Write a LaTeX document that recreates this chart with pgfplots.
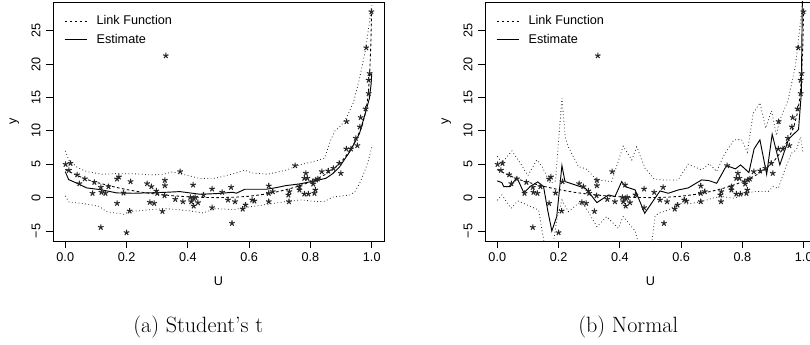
\documentclass[border=0pt]{standalone}
\usepackage{pgfplots}
\pgfplotsset{compat=1.18}
\usepackage{pgfplotstable}
\usepackage{fontspec}
\newfontfamily\hv{Liberation Sans}

\pgfplotstableread{
u y
0.001 4.99
0.017 5.14
0.012 4.10
0.039 3.42
0.046 2.10
0.064 2.82
0.089 0.65
0.095 2.30
0.116 1.55
0.118 0.80
0.131 0.65
0.141 1.65
0.169 2.80
0.175 3.10
0.169 -0.85
0.116 -4.45
0.213 2.40
0.210 -2.00
0.200 -5.24
0.190 0.70
0.267 2.10
0.281 1.65
0.276 -0.70
0.290 -0.85
0.297 1.00
0.300 0.65
0.317 -2.05
0.324 0.30
0.325 1.80
0.325 2.60
0.328 21.26
0.359 -0.25
0.375 3.90
0.384 -0.60
0.408 0.05
0.411 -0.60
0.419 -0.10
0.419 -1.25
0.424 0.05
0.433 -0.75
0.417 1.90
0.451 0.40
0.479 1.30
0.479 -1.50
0.512 0.80
0.531 -0.35
0.541 1.55
0.544 -3.85
0.554 -0.60
0.579 -1.70
0.588 -1.10
0.610 -0.35
0.617 -0.50
0.664 1.75
0.664 0.65
0.664 -0.60
0.677 0.90
0.728 0.40
0.731 0.90
0.730 -0.60
0.750 4.80
0.764 1.15
0.764 1.65
0.780 0.55
0.793 0.55
0.780 2.90
0.790 2.90
0.785 3.65
0.807 2.40
0.809 2.05
0.818 2.65
0.824 2.80
0.816 1.15
0.813 0.65
0.837 3.90
0.858 4.00
0.875 4.40
0.894 5.15
0.899 3.65
0.917 7.30
0.932 7.30
0.918 11.40
0.948 8.90
0.953 7.80
0.961 10.60
0.964 12.00
0.980 13.30
0.982 22.45
0.990 15.60
0.990 17.60
0.993 18.60
0.999 27.85
}\pts

\pgfplotstableread{
u y
0 4.2
0.025 3.6
0.05 3.1
0.075 2.65
0.1 2.3
0.15 1.7
0.2 1.2
0.25 0.8
0.3 0.5
0.35 0.28
0.4 0.12
0.45 0.03
0.5 0
0.55 0.05
0.6 0.2
0.65 0.5
0.7 0.95
0.75 1.55
0.8 2.35
0.85 3.5
0.88 4.5
0.9 5.3
0.92 6.5
0.94 7.9
0.96 9.8
0.97 11.0
0.98 12.8
0.986 14.6
0.99 16.3
0.994 19.4
0.997 22.8
1.0 28.6
}\link

\pgfplotstableread{
u y
0 7.0
0.012 5.6
0.04 4.5
0.07 3.9
0.12 3.5
0.17 3.6
0.23 3.55
0.28 3.4
0.32 3.5
0.35 3.85
0.4 3.3
0.44 2.85
0.49 2.9
0.55 3.6
0.585 4.1
0.61 3.7
0.66 3.5
0.72 4.1
0.765 4.9
0.81 5.4
0.846 5.9
0.865 8.5
0.88 10.0
0.9 10.8
0.918 12.0
0.94 14.2
0.96 17.8
0.98 22.2
0.993 26.5
1.0 28.8
}\lupper

\pgfplotstableread{
u y
0 0.25
0.012 -0.65
0.06 -0.9
0.11 -1.3
0.135 -2.1
0.19 -2.5
0.21 -2.1
0.28 -1.8
0.33 -1.65
0.4 -1.95
0.45 -2.3
0.49 -1.65
0.55 -1.8
0.6 -1.4
0.66 -1.0
0.71 -0.65
0.77 -0.35
0.82 -0.6
0.846 -0.55
0.875 0.1
0.93 0.4
0.945 0.9
0.96 2.1
0.98 4.3
0.99 5.7
1.0 7.6
}\llower

\pgfplotstableread{
u y
0 3.9
0.011 2.7
0.038 2.15
0.07 1.45
0.114 1.2
0.168 0.7
0.222 0.65
0.3 0.75
0.33 0.8
0.374 0.9
0.44 0.5
0.493 0.6
0.548 0.8
0.558 0.65
0.586 1.25
0.656 1.25
0.689 1.5
0.72 1.8
0.765 2.05
0.819 2.55
0.851 2.9
0.873 3.6
0.895 4.6
0.93 7.0
0.96 9.6
0.98 12.8
0.992 14.8
0.998 17
1.0 18.6
}\lest

\pgfplotstableread{
u y
0 6.2
0.015 5.2
0.048 7.0
0.072 5.4
0.1 3.3
0.129 5.65
0.146 4.65
0.173 2.15
0.19 2.5
0.211 14.9
0.222 9.0
0.232 7.6
0.265 4.65
0.29 4.3
0.325 2.65
0.373 2.4
0.411 7.7
0.439 5.65
0.455 7.6
0.482 4.4
0.512 2.8
0.537 2.65
0.59 2.65
0.623 5.0
0.667 4.15
0.692 5.1
0.716 3.9
0.737 6.15
0.772 8.65
0.797 8.7
0.816 6.8
0.835 12.6
0.857 14.2
0.876 10.4
0.895 13.0
0.911 9.3
0.92 11.4
0.949 14.6
0.973 19.8
0.993 27.8
0.996 29.5
}\rupper

\pgfplotstableread{
u y
0 -0.4
0.015 0.4
0.045 -1.6
0.067 -0.5
0.11 -1.35
0.135 -1.85
0.153 -6.8
0.17 -12
0.183 -6.8
0.194 -3.35
0.211 -0.35
0.232 -2.1
0.265 -0.85
0.287 -1.35
0.325 -4.35
0.357 -2.85
0.395 -4.6
0.411 -2.85
0.45 -5.0
0.46 -6.8
0.48 -9
0.504 -6.8
0.515 -2.8
0.525 -2.35
0.558 -1.85
0.591 -0.85
0.623 -0.95
0.667 -0.6
0.7 -0.1
0.732 0.15
0.775 -0.1
0.808 0.65
0.84 0.9
0.884 0.9
0.9 1.65
0.917 1.4
0.938 4.15
0.96 6.65
0.976 7.15
0.99 9.1
0.997 6.8
}\rlower

\pgfplotstableread{
u y
0 2.5
0.015 2.25
0.021 1.65
0.042 1.65
0.064 3.0
0.087 0.7
0.107 1.65
0.132 2.35
0.151 1.65
0.165 -2
0.178 -5.0
0.194 -2.85
0.211 4.8
0.221 2.4
0.287 1.4
0.297 0.9
0.325 -0.75
0.363 0.4
0.384 0.15
0.406 2.4
0.417 1.65
0.45 1.15
0.481 -2.35
0.531 1.0
0.558 0.65
0.591 1.15
0.623 1.45
0.667 2.65
0.69 2.55
0.716 2.15
0.748 4.8
0.777 4.3
0.794 4.9
0.821 3.75
0.838 7.3
0.857 8.65
0.879 3.5
0.897 9.5
0.922 4.9
0.951 8.8
0.983 10.2
0.992 15.6
0.998 40
}\rest

\pgfplotsset{
  rstyle/.style={
    scale only axis, width=248.25pt, height=179.25pt,
    anchor=south west,
    xmin=-0.04, xmax=1.04, ymin=-6.5, ymax=29.3,
    xtick={0,0.2,0.4,0.6,0.8,1},
    xticklabels={0.0,0.2,0.4,0.6,0.8,1.0},
    ytick={-5,0,5,10,15,20,25},
    yticklabels={−5,0,5,10,15,20,25},
    tick align=outside, major tick length=5.25pt,
    xtick pos=bottom, ytick pos=left,
    tick style={black, line width=0.6pt},
    axis line style={line width=0.6pt},
    tick label style={font=\hv\fontsize{9.5}{11}\selectfont},
    xticklabel style={anchor=center, yshift=-7pt},
    yticklabel style={anchor=center, xshift=-7.5pt, rotate=90},
    xlabel={U}, ylabel={y},
    label style={font=\hv\fontsize{9.5}{11}\selectfont},
    xlabel style={at={(axis description cs:0.5,-0.1674)}, anchor=center},
    ylabel style={at={(axis description cs:-0.117,0.5)}, anchor=center},
    legend style={draw=none, fill=none, at={(axis description cs:0.033,0.955)},
      anchor=north west, font=\hv\fontsize{9.5}{11}\selectfont,
      inner sep=0pt, row sep=2.2pt, nodes={inner sep=1.8pt},
      /tikz/every odd column/.append style={column sep=5.3pt}},
    legend cell align=left,
    legend image code/.code={\draw[##1] (0pt,0pt) -- (16.5pt,0pt);},
  },
  dotl/.style={black!85, line width=0.6pt, dash pattern=on 0.6pt off 1.9pt},
  dashl/.style={black, line width=0.65pt, dash pattern=on 2pt off 1.75pt},
  solidl/.style={black, line width=0.7pt},
  starm/.style={only marks, mark=star, mark size=2.2pt, black!85, mark options={line width=0.8pt}},
}

\begin{document}
\begin{tikzpicture}
\useasboundingbox (0,0) rectangle (607.5pt,258.75pt);
\clip (0,0) rectangle (607.5pt,258.75pt);

\begin{axis}[rstyle, at={(39.75pt,78pt)}]
\addplot[starm, forget plot] table[x=u,y=y] {\pts};
\addplot[dotl, forget plot] table[x=u,y=y] {\lupper};
\addplot[dotl, forget plot] table[x=u,y=y] {\llower};
\addplot[dashl] table[x=u,y=y] {\link};
\addlegendentry{Link Function}
\addplot[solidl] table[x=u,y=y] {\lest};
\addlegendentry{Estimate}
\end{axis}

\begin{axis}[rstyle, at={(363.75pt,78pt)}]
\addplot[starm, forget plot] table[x=u,y=y] {\pts};
\addplot[dotl, forget plot] table[x=u,y=y] {\rupper};
\addplot[dotl, forget plot] table[x=u,y=y] {\rlower};
\addplot[dashl] table[x=u,y=y] {\link};
\addlegendentry{Link Function}
\addplot[solidl] table[x=u,y=y] {\rest};
\addlegendentry{Estimate}
\end{axis}

\node[anchor=base west, font=\fontsize{16.6}{20}\selectfont, inner sep=0pt] at (99.75pt,9.5pt) {(a) Student's t};
\node[anchor=base west, font=\fontsize{16.6}{20}\selectfont, inner sep=0pt] at (433.5pt,9.5pt) {(b) Normal};
\end{tikzpicture}
\end{document}
